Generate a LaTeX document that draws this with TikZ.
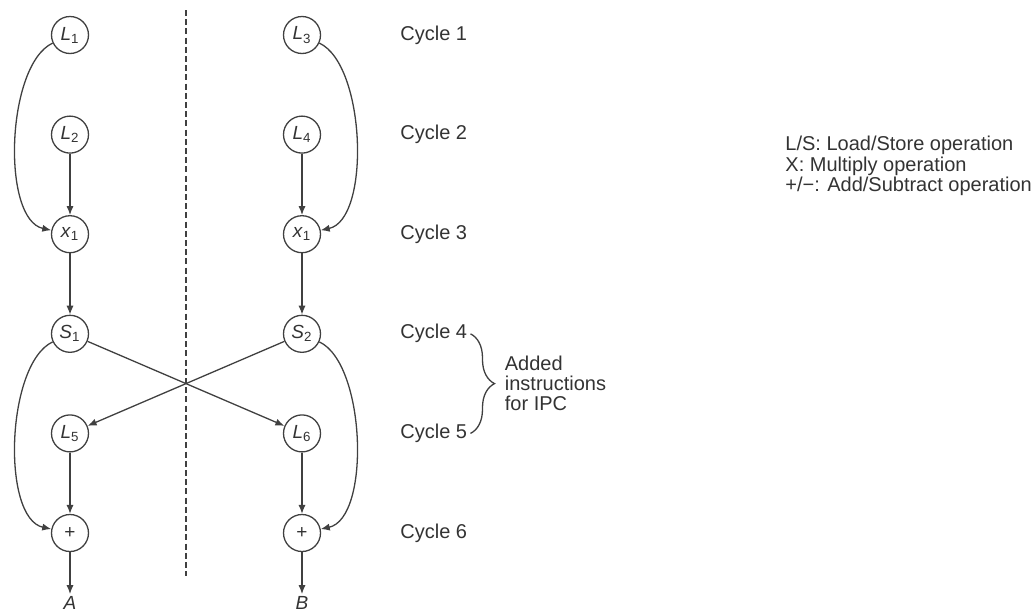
\documentclass[tikz,border=0pt]{standalone}
\usepackage{fontspec}
\setmainfont{Liberation Sans}
\usetikzlibrary{positioning, arrows.meta, calc, decorations.pathreplacing}

\begin{document}
\begin{tikzpicture}[
  op/.style={circle, draw=black!75, line width=0.65pt, minimum size=18.5pt, inner sep=0pt,
             text=black!80, font=\fontsize{9.5}{10}\selectfont},
  arr/.style={-{Latex[length=4.5pt, width=3.6pt]}, line width=0.65pt, color=black!75},
  cyc/.style={anchor=west, inner sep=1.5pt, text=black!80, font=\fontsize{10}{12}\selectfont},
  res/.style={inner sep=1pt, text=black!80, font=\fontsize{9.5}{10}\selectfont\itshape},
  brc/.style={decorate, decoration={brace, amplitude=12pt}, line width=0.65pt, draw=black!75},
  divider/.style={dash pattern=on 3pt off 1.6pt, line width=0.55pt, draw=black!75},
  node distance=49.8pt and 116pt, on grid
]

\useasboundingbox (0,0) rectangle (518pt,-305.5pt);

% --- Left thread ---
\node[op] (L1) at (35pt,-17.5pt) {\textit{L}\textsubscript{1}};
\node[op, below=of L1] (L2) {\textit{L}\textsubscript{2}};
\node[op, below=of L2] (X1) {\textit{x}\textsubscript{1}};
\node[op, below=of X1] (S1) {\textit{S}\textsubscript{1}};
\node[op, below=of S1] (L5) {\textit{L}\textsubscript{5}};
\node[op, below=of L5] (add1) {+};
\node[res, below=35pt of add1] (outA) {A};

% --- Right thread ---
\node[op, right=of L1] (L3) {\textit{L}\textsubscript{3}};
\node[op, below=of L3] (L4) {\textit{L}\textsubscript{4}};
\node[op, below=of L4] (X2) {\textit{x}\textsubscript{1}};
\node[op, below=of X2] (S2) {\textit{S}\textsubscript{2}};
\node[op, below=of S2] (L6) {\textit{L}\textsubscript{6}};
\node[op, below=of L6] (add2) {+};
\node[res, below=35pt of add2] (outB) {B};

% --- Cycle labels ---
\foreach \n/\row in {1/L3, 2/L4, 3/X2, 4/S2, 5/L6, 6/add2}
  \node[cyc] (cyc\n) at ($(\row)+(47.5pt,0)$) {Cycle \n};

% --- Divider between the two threads ---
\coordinate (top) at ($(L1)!0.5!(L3)+(0,12.5pt)$);
\coordinate (bot) at ($(add1)!0.5!(add2)+(0,-21.5pt)$);
\draw[divider] (top) -- (bot);

% --- Left flow ---
\draw[arr] (L1) to[out=205, in=168, looseness=0.7] (X1);
\draw[arr] (L2) -- (X1);
\draw[arr] (X1) -- (S1);
\draw[arr] (S1) to[out=205, in=168, looseness=0.7] (add1);
\draw[arr] (L5) -- (add1);
\draw[arr] (add1) -- (outA);

% --- Right flow ---
\draw[arr] (L3) to[out=-25, in=12, looseness=0.7] (X2);
\draw[arr] (L4) -- (X2);
\draw[arr] (X2) -- (S2);
\draw[arr] (S2) to[out=-25, in=12, looseness=0.7] (add2);
\draw[arr] (L6) -- (add2);
\draw[arr] (add2) -- (outB);

% --- Exchange between threads ---
\draw[arr] (S1) -- (L6);
\draw[arr] (S2) -- (L5);

% --- IPC note ---
\draw[brc] (cyc4.east) -- (cyc5.east);
\node[cyc, align=left, font=\fontsize{10}{10}\selectfont] (ipc)
  at ($(cyc4.east)!0.5!(cyc5.east)+(15.5pt,0)$) {Added\\instructions\\for IPC};

% --- Legend ---
\node[cyc, align=left, font=\fontsize{10}{8}\selectfont] (legend) at (391pt,-83pt)
  {L/S: Load/Store operation\\X: Multiply operation\\+/−: Add/Subtract operation};

\end{tikzpicture}
\end{document}
